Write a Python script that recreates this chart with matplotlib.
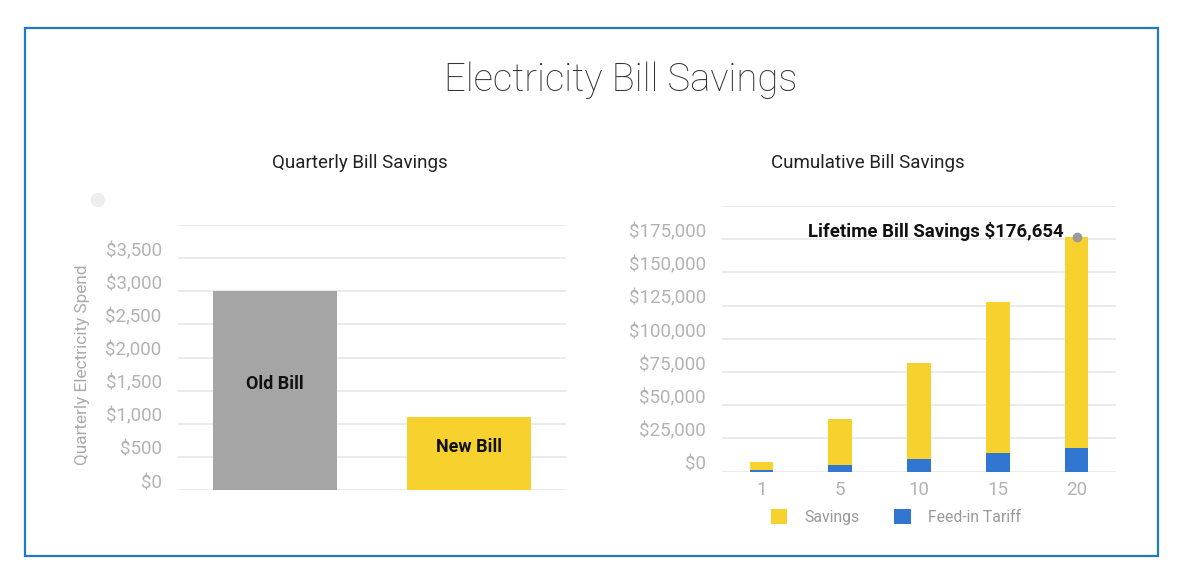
import matplotlib
matplotlib.use('Agg')
import matplotlib.pyplot as plt
import matplotlib.transforms as mtransforms
from matplotlib.patches import Rectangle, Ellipse
import numpy as np

plt.rcParams['font.family'] = ['Roboto', 'DejaVu Sans']

# quarterly bills
bill_names = ['Old Bill', 'New Bill']
bill_values = [3000, 1100]
bill_colors = ['#a5a5a5', '#f7d12e']
left_ticks = list(range(0, 4001, 500))

# cumulative savings
years = ['1', '5', '10', '15', '20']
feed_in = [1200, 5000, 9500, 14000, 18000]
savings = [6300, 34700, 72500, 113800, 158654]
right_ticks = list(range(0, 200001, 25000))

GRID = '#e8e8e8'
TICK = '#b3b3b3'

W, H = 1185, 583
fig = plt.figure(figsize=(W / 100, H / 100), dpi=100)


def px_axes(x0, y_top, x1, y_bot):
    return fig.add_axes([x0 / W, 1 - y_bot / H, (x1 - x0) / W, (y_bot - y_top) / H])


def style(ax, ticks, labels):
    for s in ax.spines.values():
        s.set_visible(False)
    ax.set_yticks(ticks)
    ax.set_yticklabels(labels)
    ax.yaxis.grid(True, color=GRID, lw=1.2)
    ax.set_axisbelow(True)
    ax.tick_params(axis='y', length=0, pad=11.5, labelsize=13.5, labelcolor=TICK)
    shift = mtransforms.ScaledTranslation(0, 0.09, fig.dpi_scale_trans)
    for lab in ax.get_yticklabels():
        lab.set_transform(lab.get_transform() + shift)


# outer frame
fig.patches.append(Rectangle((25 / W, 1 - 556 / H), (1158 - 25) / W, (556 - 28) / H,
                             transform=fig.transFigure, fill=False,
                             edgecolor='#1f7ac8', lw=1.6))

fig.text(621 / W, 1 - 80 / H, 'Electricity Bill Savings', ha='center', va='center',
         fontsize=27.5, fontweight='light', color='#333333')

# left chart
ax1 = px_axes(177.7, 225, 565.7, 490)
x1 = np.arange(len(bill_names))
ax1.bar(x1, bill_values, width=0.64, color=bill_colors)
ax1.set_xlim(-0.5, 1.5)
ax1.set_ylim(0, 4000)
ax1.set_xticks([])
style(ax1, left_ticks, ['${:,}'.format(t) if t < 4000 else '' for t in left_ticks])
for xi, v, name in zip(x1, bill_values, bill_names):
    ax1.annotate(name, xy=(xi, v / 2), xytext=(0, 7), textcoords='offset pixels',
                 ha='center', va='center', fontsize=13, fontweight='bold',
                 color='#111111')
ax1.set_ylabel('Quarterly Electricity Spend', fontsize=12.4, color='#aaaaaa')
ax1.yaxis.set_label_coords((90 - 177.7) / 388, (490 - 365) / 265)
fig.text(360 / W, 1 - 163 / H, 'Quarterly Bill Savings', ha='center', va='center',
         fontsize=13.5, color='#222222')
fig.patches.append(Ellipse((98 / W, 1 - 200 / H), 13 / W, 13 / H,
                           transform=fig.transFigure, color='#eeeeee'))

# right chart
ax2 = px_axes(722, 206, 1116, 471.7)
x2 = np.arange(len(years))
ax2.bar(x2, savings, width=0.30, bottom=feed_in, color='#f7d12e', label='Savings')
ax2.bar(x2, feed_in, width=0.30, color='#3177d1', label='Feed-in Tariff')
ax2.set_xlim(-0.5, 4.5)
ax2.set_ylim(0, 200000)
ax2.set_xticks(x2)
ax2.set_xticklabels(years)
ax2.tick_params(axis='x', length=0, pad=7, labelsize=13.5, labelcolor=TICK)
style(ax2, right_ticks, ['${:,}'.format(t) if t < 200000 else '' for t in right_ticks])
total = savings[-1] + feed_in[-1]
ax2.scatter([x2[-1]], [total], s=36, color='#9a9a9a', zorder=5, clip_on=False)
ax2.annotate('Lifetime Bill Savings ${:,}'.format(total), xy=(x2[-1], total),
             xytext=(-13, 6), textcoords='offset pixels', ha='right', va='center',
             fontsize=13.4, fontweight='bold', color='#111111')
ax2.legend(loc='center', bbox_to_anchor=(896 / W, 1 - 517 / H),
           bbox_transform=fig.transFigure, ncol=2, frameon=False, fontsize=11.3,
           labelcolor='#999999', handlelength=1.05, handleheight=1.05,
           handletextpad=1.1, columnspacing=2.2)
fig.text(868 / W, 1 - 163 / H, 'Cumulative Bill Savings', ha='center', va='center',
         fontsize=13.5, color='#222222')

fig.savefig('out.png', dpi=100)
